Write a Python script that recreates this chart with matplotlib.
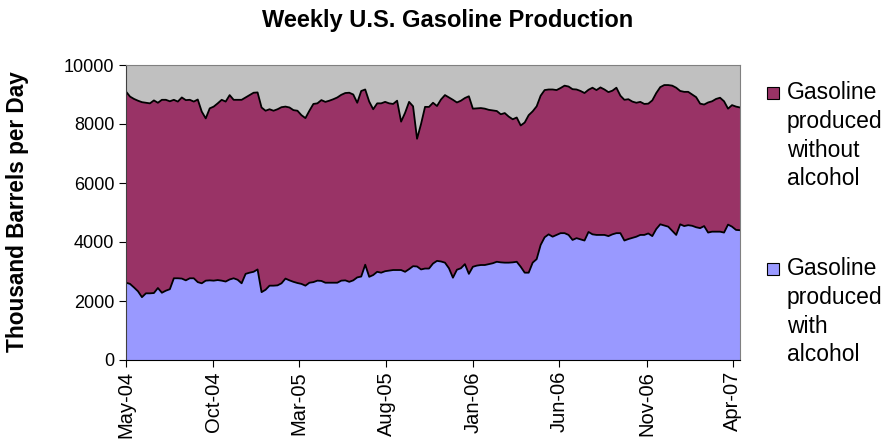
import numpy as np
import pandas as pd
import matplotlib
matplotlib.use("Agg")
import matplotlib.pyplot as plt
import matplotlib.dates as mdates
from matplotlib.patches import Rectangle

plt.rcParams['font.family'] = ['Liberation Sans', 'DejaVu Sans']

# weekly values, thousand barrels per day
total_production = [
    9100, 8930, 8850, 8790, 8740, 8720, 8700, 8800, 8720, 8820,
    8820, 8770, 8820, 8760, 8900, 8810, 8820, 8760, 8830, 8420,
    8190, 8530, 8590, 8700, 8820, 8760, 8980, 8820, 8820, 8820,
    8900, 8984, 9060, 9070, 8560, 8450, 8500, 8450, 8500, 8570,
    8590, 8560, 8470, 8450, 8300, 8200, 8450, 8680, 8700, 8810,
    8750, 8790, 8840, 8900, 8990, 9050, 9060, 9000, 8720, 9120, 9170,
    8760, 8500, 8700, 8700, 8750, 8700, 8680, 8790, 8080, 8380,
    8750, 8600, 7500, 8000, 8580, 8580,
    8720, 8610, 8830, 8980, 8900, 8820, 8730, 8790, 8880, 8940,
    8520, 8530, 8540, 8520, 8480, 8460, 8440, 8330, 8370, 8250,
    8160, 8220, 7950, 8050, 8300, 8430, 8600, 8960, 9150, 9170,
    9170, 9150, 9220, 9300, 9270, 9180, 9170, 9120, 9050, 9160,
    9230, 9150, 9240, 9170, 9080, 9130, 9230, 8960, 8820, 8840,
    8760, 8720, 8750, 8680, 8690, 8800, 9050, 9250, 9320, 9320,
    9300, 9230, 9120, 9090, 9090, 9000, 8910, 8690, 8660, 8730,
    8770, 8850, 8890, 8770, 8520, 8640, 8590, 8560,
]
with_alcohol = [
    2620, 2580, 2460, 2330, 2130, 2260, 2260, 2270, 2440, 2280,
    2350, 2400, 2770, 2770, 2760, 2700, 2770, 2770, 2640, 2600,
    2690, 2700, 2690, 2710, 2690, 2660, 2730, 2770, 2720, 2600,
    2920, 2960, 2990, 3070, 2300, 2380, 2520, 2520, 2530, 2600,
    2760, 2700, 2650, 2610, 2580, 2520, 2620, 2640, 2690, 2680,
    2620, 2620, 2620, 2620, 2690, 2700, 2650, 2700, 2800, 2830, 3230,
    2820, 2880, 2990, 2960, 3010, 3030, 3050, 3050, 3050, 2990,
    3080, 3180, 3170, 3070, 3100, 3100,
    3270, 3360, 3340, 3300, 3110, 2790, 3060, 3110, 3250, 2920,
    3160, 3200, 3220, 3220, 3250, 3280, 3330, 3310, 3300, 3300,
    3310, 3330, 3160, 2960, 2960, 3300, 3420, 3900, 4160, 4260,
    4180, 4240, 4300, 4300, 4240, 4070, 4130, 4090, 4050, 4340,
    4260, 4240, 4240, 4240, 4200, 4260, 4300, 4300, 4050, 4100,
    4140, 4180, 4240, 4240, 4290, 4200, 4440, 4600, 4560, 4520,
    4380, 4240, 4600, 4540, 4570, 4550, 4500, 4470, 4540, 4320,
    4350, 4350, 4350, 4320, 4590, 4520, 4410, 4400,
]
series_labels = ["Gasoline\nproduced\nwithout\nalcohol",
                 "Gasoline\nproduced\nwith\nalcohol"]
colors = ["#993366", "#9999FF"]

weeks = pd.date_range("2004-05-07", periods=len(total_production), freq="7D")
total = np.array(total_production)
bottom = np.array(with_alcohol)
without_alcohol = total - bottom

fig = plt.figure(figsize=(8.86, 4.47), dpi=100)
ax = fig.add_axes([126/886, 1-360/447, (740-126)/886, (360-65)/447])
ax.set_facecolor("#C0C0C0")

ax.stackplot(weeks, bottom, without_alcohol, colors=[colors[1], colors[0]], linewidth=0)
ax.plot(weeks, bottom, color="black", lw=1.3)
ax.plot(weeks, total, color="black", lw=1.3)

ax.set_xlim(weeks[0], weeks[-1])
ax.set_ylim(0, 10000)
ax.set_yticks(range(0, 10001, 2000))
ticks = [weeks[0] + pd.DateOffset(months=5*k) for k in range(8)]
ax.set_xticks(ticks)
ax.xaxis.set_major_formatter(mdates.DateFormatter("%b-%y"))
ax.tick_params(axis="x", labelrotation=90, labelsize=14.5, direction="out", length=5, pad=3)
ax.tick_params(axis="y", labelsize=13, direction="out", length=5)
for s in ["top", "right"]:
    ax.spines[s].set_color("#808080")
ax.spines["left"].set_color("#404040")
ax.spines["bottom"].set_color("black")

fig.text(18/886, 1-212/447, "Thousand Barrels per Day", rotation=90,
         ha="center", va="center", fontsize=16.3, fontweight="bold")
fig.text(448/886, 1-20/447, "Weekly U.S. Gasoline Production",
         ha="center", va="center", fontsize=17, fontweight="bold")

# legend drawn by hand to match the tall stacked labels
for (ytop, lab, c) in [(86, series_labels[0], colors[0]), (262, series_labels[1], colors[1])]:
    fig.patches.append(Rectangle((767/886, 1-(ytop+13)/447), 12/886, 12/447,
                                 transform=fig.transFigure, facecolor=c,
                                 edgecolor="black", lw=0.8))
    fig.text(787/886, 1-(ytop-5)/447, lab, ha="left", va="top",
             fontsize=16.5, linespacing=1.32)

fig.savefig("out.png", dpi=100)
